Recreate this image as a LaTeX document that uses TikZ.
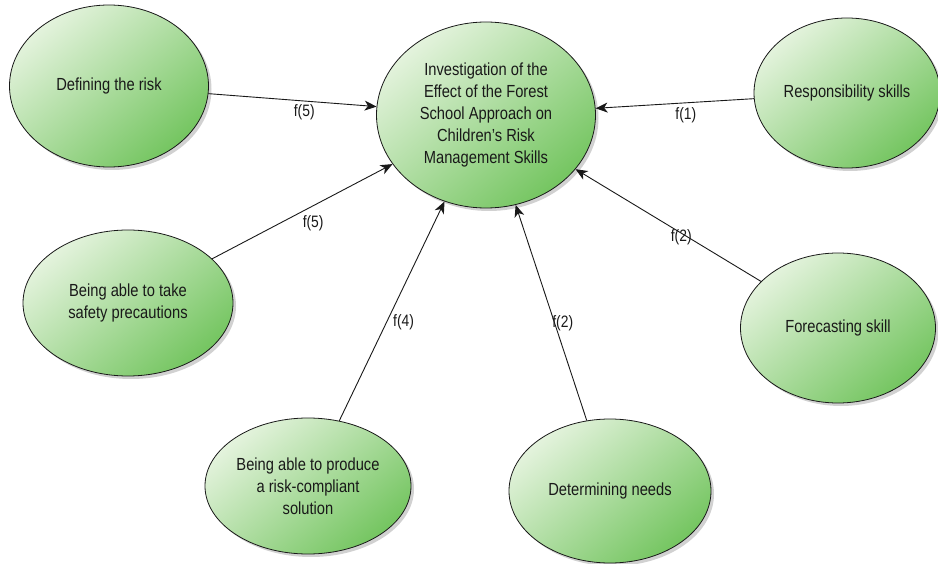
\documentclass[tikz,border=0pt]{standalone}
\usepackage{fontspec}
\setmainfont{Liberation Sans}[FakeStretch=0.84]
\usetikzlibrary{arrows.meta,shadows,shapes.geometric}
\definecolor{leafLight}{RGB}{228,243,221}
\definecolor{leafDark}{RGB}{116,197,96}
\definecolor{inkGray}{RGB}{25,25,25}
\tikzset{
  bubble/.style={ellipse, draw=inkGray, line width=0.8pt, inner sep=0pt,
    top color=leafLight, bottom color=leafDark, shading angle=40,
    drop shadow={shadow xshift=3pt, shadow yshift=-3pt, opacity=0.18, fill=black},
    align=center, text=inkGray,
    font=\fontsize{17.5}{22}\selectfont},
  link/.style={draw=inkGray, line width=0.9pt,
    -{Stealth[length=12pt,width=10pt,inset=3.5pt]}},
  flabel/.style={font=\fontsize{16.5}{18}\selectfont, text=inkGray, inner sep=0pt}
}
\begin{document}
\begin{tikzpicture}[x=1pt,y=-1pt]
\useasboundingbox (0,0) rectangle (938,564);

% central topic
\node[bubble, minimum width=219pt, minimum height=186pt] (topic) at (486,115)
  {Investigation of the\\Effect of the Forest\\School Approach on\\Children's Risk\\Management Skills};

% contributing skills
\node[bubble, minimum width=199pt, minimum height=162pt] (define) at (109,86) {Defining the risk};
\node[bubble, minimum width=186pt, minimum height=150pt] (resp) at (847,93) {Responsibility skills};
\node[bubble, minimum width=210pt, minimum height=146pt] (safety) at (128,303) {Being able to take\\safety precautions};
\node[bubble, minimum width=195pt, minimum height=150pt] (forecast) at (838,328) {Forecasting skill};
\node[bubble, minimum width=206pt, minimum height=136pt] (solution) at (308,486) {Being able to produce\\a risk-compliant\\solution};
\node[bubble, minimum width=202pt, minimum height=144pt] (needs) at (610,491) {Determining needs};

% weighted links into the central topic
\draw[link] (define) -- node[flabel, pos=0.57, yshift=-11pt] {f(5)} (topic);
\draw[link] (safety) -- node[flabel, pos=0.56, yshift=-17pt] {f(5)} (topic);
\draw[link] (solution) -- node[flabel, pos=0.45, xshift=17pt] {f(4)} (topic);
\draw[link] (needs) -- node[flabel, pos=0.45, xshift=8pt] {f(2)} (topic);
\draw[link] (forecast) -- node[flabel, pos=0.43, yshift=-4pt] {f(2)} (topic);
\draw[link] (resp) -- node[flabel, pos=0.43, yshift=-12pt] {f(1)} (topic);
\end{tikzpicture}
\end{document}
